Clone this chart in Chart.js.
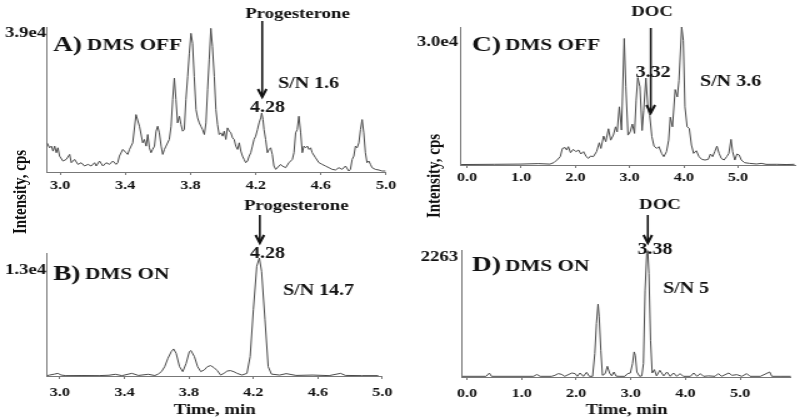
<!DOCTYPE html>
<html>
<head>
<meta charset="utf-8">
<script src="https://cdn.jsdelivr.net/npm/chart.js@4"></script>
<style>
  body { margin: 0; background: #fff; overflow: hidden; }
  /* the original figure is stretched sideways, so the whole panel set is too */
  #wrap { position: absolute; left: 0; top: 0; width: 640px; height: 419px;
          transform: scaleX(1.25); transform-origin: 0 0; }
  #wrap canvas { position: absolute; }
  .ytitle { position: absolute; width: 140px; height: 20px; line-height: 20px;
            text-align: center; font: bold 15px "Liberation Serif", "Times New Roman", serif;
            color: #111; transform: rotate(-90deg); }
</style>
</head>
<body>
<div id="wrap">
  <canvas id="cA" width="320" height="190" style="left:0;top:0"></canvas>
  <canvas id="cB" width="320" height="229" style="left:0;top:190px"></canvas>
  <canvas id="cC" width="320" height="190" style="left:320px;top:0"></canvas>
  <canvas id="cD" width="320" height="229" style="left:320px;top:190px"></canvas>
  <div class="ytitle" style="left:-52px;top:182px">Intensity, cps</div>
  <div class="ytitle" style="left:279px;top:166px">Intensity, cps</div>
</div>
<script>
  // ---- data: [time (min), intensity (cps)] ----

  // A) progesterone, DMS off
  var traceA = [
    [2.920,7850],[2.936,6510],[2.947,6960],[2.957,5620],[2.967,6960],[2.977,5180],[2.987,6510],[2.997,4280],
    [3.018,2950],[3.038,3390],[3.059,4730],[3.069,2500],[3.089,3390],[3.110,2050],[3.130,2500],[3.150,1610],
    [3.171,2050],[3.191,1610],[3.212,2500],[3.222,1610],[3.242,2950],[3.263,1610],[3.283,2500],[3.303,2050],
    [3.324,2950],[3.344,2050],[3.354,2500],[3.364,4280],[3.385,6070],[3.405,5180],[3.415,4730],[3.426,6070],
    [3.446,7850],[3.466,15440],[3.487,12310],[3.507,7850],[3.517,8750],[3.528,6960],[3.538,10080],[3.548,6510],
    [3.558,5180],[3.568,6070],[3.579,6960],[3.589,10980],[3.599,12310],[3.609,10530],[3.620,6960],[3.630,4730],
    [3.640,6070],[3.650,6960],[3.670,8750],[3.681,12310],[3.691,19450],[3.701,25250],[3.711,19450],[3.721,13210],
    [3.732,14990],[3.742,12760],[3.752,10980],[3.762,11420],[3.772,19450],[3.783,25700],[3.793,31950],[3.803,37300],
    [3.813,34620],[3.823,25700],[3.834,16780],[3.844,14550],[3.854,13210],[3.864,12310],[3.874,11420],[3.885,10080],
    [3.895,13210],[3.905,22130],[3.915,30160],[3.925,38640],[3.935,33730],[3.946,25700],[3.956,16780],[3.966,12760],
    [3.976,10080],[3.987,10530],[3.997,9640],[4.007,10980],[4.017,8750],[4.027,11870],[4.038,10980],[4.048,10530],
    [4.058,9190],[4.068,8750],[4.078,6960],[4.089,6070],[4.099,7850],[4.109,5620],[4.119,4280],[4.129,3390],
    [4.139,2500],[4.150,2950],[4.160,4280],[4.170,5180],[4.180,6960],[4.190,8750],[4.200,9640],[4.211,11420],
    [4.221,13210],[4.231,14550],[4.237,15880],[4.245,14100],[4.251,11420],[4.261,8750],[4.272,5180],[4.282,6070],
    [4.292,6510],[4.302,4730],[4.312,1610],[4.323,710],[4.343,1610],[4.353,2050],[4.363,1610],[4.384,1160],
    [4.404,2500],[4.425,3390],[4.435,5180],[4.445,10530],[4.455,11420],[4.465,14990],[4.476,10530],[4.486,5180],
    [4.496,6960],[4.506,6510],[4.517,6960],[4.527,6070],[4.537,6510],[4.547,5180],[4.567,3840],[4.588,2500],
    [4.608,2050],[4.628,1610],[4.649,1160],[4.669,710],[4.690,540],[4.710,1160],[4.730,710],[4.751,1610],
    [4.771,270],[4.781,710],[4.792,3390],[4.802,4280],[4.812,6960],[4.822,6510],[4.833,7850],[4.843,11420],
    [4.853,14100],[4.863,10530],[4.873,5180],[4.883,2500],[4.894,2950],[4.904,2050],[4.914,1160],[4.934,710],
    [4.955,540],[4.975,270],[4.996,270]
  ];

  // B) progesterone, DMS on
  var traceB = [
    [2.920,40],[2.936,100],[2.967,200],[2.987,280],[3.008,100],[3.038,40],[3.140,50],[3.242,40],
    [3.303,80],[3.344,180],[3.385,40],[3.446,280],[3.487,60],[3.548,180],[3.589,50],[3.609,200],
    [3.630,460],[3.650,990],[3.670,1870],[3.691,2580],[3.705,2860],[3.721,2400],[3.742,990],[3.762,460],
    [3.783,1340],[3.803,2580],[3.813,2690],[3.834,2050],[3.854,990],[3.874,460],[3.895,640],[3.915,990],
    [3.935,1100],[3.956,880],[3.976,570],[3.997,100],[4.017,280],[4.038,530],[4.058,570],[4.078,460],
    [4.099,280],[4.129,100],[4.160,280],[4.180,2050],[4.200,7000],[4.221,11600],[4.237,12470],[4.251,11060],
    [4.272,5940],[4.292,990],[4.312,200],[4.363,100],[4.404,250],[4.465,60],[4.567,100],[4.669,40],
    [4.741,280],[4.771,60],[4.873,40],[4.975,40]
  ];

  // C) DOC, DMS off
  var traceC = [
    [-0.104,100],[0.50,150],[0.98,200],[1.32,300],[1.53,200],[1.60,500],[1.66,1080],[1.72,1810],
    [1.76,3600],[1.81,3800],[1.84,3250],[1.87,3980],[1.91,2680],[1.96,3400],[2.01,2900],[2.06,3250],
    [2.10,2390],[2.15,2900],[2.20,1810],[2.24,1450],[2.28,1950],[2.33,1810],[2.39,2900],[2.44,4840],
    [2.47,3600],[2.52,6290],[2.56,5060],[2.61,7880],[2.65,5400],[2.70,6500],[2.74,8300],[2.77,7200],
    [2.81,12650],[2.85,7600],[2.90,27500],[2.93,17000],[2.97,6500],[3.01,7200],[3.05,8900],[3.09,6870],
    [3.12,14100],[3.15,19000],[3.19,17000],[3.23,7500],[3.26,11900],[3.30,18900],[3.34,11900],[3.37,10800],
    [3.41,6150],[3.45,4100],[3.50,3600],[3.54,3980],[3.59,2530],[3.63,1810],[3.68,2900],[3.72,5400],
    [3.75,10400],[3.79,8300],[3.84,16400],[3.88,14800],[3.91,18400],[3.96,30000],[3.99,27100],[4.02,12650],
    [4.06,8300],[4.10,7950],[4.14,4340],[4.18,2530],[4.23,3100],[4.28,1810],[4.33,1230],[4.39,1080],
    [4.45,1230],[4.49,2390],[4.53,1810],[4.57,2900],[4.61,4100],[4.65,2530],[4.69,1450],[4.74,1080],
    [4.79,1810],[4.83,2530],[4.87,5570],[4.90,2900],[4.94,1080],[4.98,2390],[5.02,2170],[5.06,1080],
    [5.12,500],[5.21,360],[5.34,220],[5.43,360],[5.52,140],[5.71,150],[5.89,100],[6.04,150]
  ];

  // D) DOC, DMS on
  var traceD = [
    [-0.09,12],[0.35,12],[0.41,70],[0.45,12],[1.22,12],[1.28,45],[1.34,12],[1.55,12],
    [1.61,30],[1.67,60],[1.73,48],[1.79,12],[1.92,71],[1.98,60],[2.02,12],[2.07,71],
    [2.13,12],[2.19,83],[2.24,12],[2.30,12],[2.34,417],[2.37,953],[2.40,1298],[2.42,1072],
    [2.45,476],[2.48,30],[2.53,60],[2.57,191],[2.61,71],[2.65,20],[2.69,89],[2.73,15],
    [2.80,12],[2.89,12],[2.94,60],[2.99,71],[3.03,238],[3.06,447],[3.08,387],[3.11,89],
    [3.16,12],[3.20,20],[3.23,238],[3.26,1548],[3.29,2203],[3.31,2250],[3.33,1846],[3.36,655],
    [3.39,71],[3.43,131],[3.47,20],[3.53,119],[3.60,20],[3.66,89],[3.72,12],[3.78,71],
    [3.84,12],[3.90,60],[3.96,12],[4.09,12],[4.15,71],[4.21,12],[4.27,60],[4.33,12],
    [4.42,20],[4.54,12],[4.60,60],[4.66,12],[4.79,71],[4.85,30],[4.94,42],[5.03,12],
    [5.12,60],[5.18,12],[5.37,12],[5.54,89],[5.58,12],[5.73,12],[5.93,12]
  ];

  // tick values and full-scale labels
  var ticksProg = [3.0, 3.4, 3.8, 4.2, 4.6, 5.0];
  var ticksDoc = [0, 1, 2, 3, 4, 5];
  var fullScale = { A: 39000, B: 13000, C: 30000, D: 2263 };
  var fullScaleText = { A: '3.9e4', B: '1.3e4', C: '3.0e4', D: '2263' };
  var peakAt = { A: 4.24, B: 4.24, C: 3.39, D: 3.31 };

  var serif = '"Liberation Serif", "Times New Roman", serif';
  Chart.defaults.font.family = serif;

  // draws the panel captions and the arrow pointing at the analyte peak
  const notesPlugin = {
    id: 'notes',
    afterDraw(chart, args, opts) {
      const ctx = chart.ctx;
      ctx.save();
      ctx.fillStyle = '#111';
      ctx.textBaseline = 'middle';
      (opts.texts || []).forEach(t => {
        ctx.font = 'bold ' + t.size + 'px ' + serif;
        ctx.textAlign = t.align || 'left';
        ctx.fillText(t.text, t.x, t.y);
      });
      if (opts.arrow) {
        const ax = chart.scales.x.getPixelForValue(opts.arrow.at);
        ctx.strokeStyle = '#111';
        ctx.lineWidth = 1.6;
        ctx.beginPath();
        ctx.moveTo(ax, opts.arrow.y1);
        ctx.lineTo(ax, opts.arrow.y2);
        ctx.stroke();
        ctx.lineWidth = 2;
        ctx.beginPath();
        ctx.moveTo(ax - 3.4, opts.arrow.y2 - 8);
        ctx.lineTo(ax, opts.arrow.y2);
        ctx.lineTo(ax + 3.4, opts.arrow.y2 - 8);
        ctx.stroke();
      }
      ctx.restore();
    }
  };

  function makePanel(id, trace, xMin, xMax, yMax, tickVals, pad, axisH, withTitle, tickPad, notes) {
    return new Chart(document.getElementById(id), {
      type: 'line',
      data: {
        datasets: [{
          data: trace.map(p => ({ x: p[0], y: p[1] })),
          borderColor: '#4a4a4a',
          borderWidth: 1,
          pointRadius: 0,
          tension: 0,
          fill: false
        }]
      },
      options: {
        responsive: false,
        animation: false,
        layout: { padding: pad },
        plugins: { legend: { display: false }, tooltip: { enabled: false }, notes: notes },
        scales: {
          x: {
            type: 'linear',
            min: xMin,
            max: xMax,
            afterBuildTicks: scale => { scale.ticks = tickVals.map(v => ({ value: v })); },
            afterFit: scale => { scale.height = axisH; },
            ticks: {
              color: '#111',
              padding: tickPad,
              maxRotation: 0,
              font: { size: 13, weight: 'bold' },
              callback: v => Number(v).toFixed(1)
            },
            grid: { drawOnChartArea: false, tickLength: 3, color: '#777' },
            border: { color: '#777', width: 1 },
            title: {
              display: withTitle,
              text: 'Time, min',
              color: '#111',
              padding: { top: 0, bottom: 0 },
              font: { size: 15, weight: 'bold' }
            }
          },
          y: {
            min: 0,
            max: yMax,
            afterFit: scale => { scale.width = 0; },
            ticks: { display: false },
            grid: { display: false },
            border: { color: '#777', width: 1, dash: [1, 1.5] }
          }
        }
      },
      plugins: [notesPlugin]
    });
  }

  makePanel('cA', traceA, 2.92, 5.0, fullScale.A, ticksProg,
    { left: 37.6, right: 10.4, top: 27, bottom: 0 }, 18, false, 3, {
      texts: [
        { text: fullScaleText.A, x: 37, y: 33, size: 15, align: 'right' },
        { text: 'A)', x: 42.4, y: 45, size: 22 },
        { text: 'DMS OFF', x: 69.6, y: 46, size: 17 },
        { text: 'Progesterone', x: 238, y: 14, size: 15, align: 'center' },
        { text: '4.28', x: 214, y: 108, size: 16, align: 'center' },
        { text: 'S/N 1.6', x: 222.4, y: 84, size: 16 }
      ],
      arrow: { at: peakAt.A, y1: 21, y2: 97 }
    });

  makePanel('cB', traceB, 2.92, 5.0, fullScale.B, ticksProg,
    { left: 37.6, right: 10.4, top: 63, bottom: 0 }, 43, true, 6, {
      texts: [
        { text: fullScaleText.B, x: 37, y: 80, size: 15, align: 'right' },
        { text: 'B)', x: 42.4, y: 84.5, size: 22 },
        { text: 'DMS ON', x: 68, y: 85, size: 17 },
        { text: 'Progesterone', x: 237, y: 16, size: 15, align: 'center' },
        { text: '4.28', x: 214, y: 64, size: 16, align: 'center' },
        { text: 'S/N 14.7', x: 226.4, y: 101, size: 16 }
      ],
      arrow: { at: peakAt.B, y1: 25, y2: 53 }
    });

  makePanel('cC', traceC, -0.11, 6.05, fullScale.C, ticksDoc,
    { left: 48.8, right: 4, top: 27, bottom: 7 }, 18, false, 2, {
      texts: [
        { text: fullScaleText.C, x: 46.4, y: 42, size: 15, align: 'right' },
        { text: 'C)', x: 57.6, y: 45, size: 22 },
        { text: 'DMS OFF', x: 84, y: 46, size: 17 },
        { text: 'DOC', x: 201.6, y: 12, size: 15, align: 'center' },
        { text: '3.32', x: 202.4, y: 73, size: 16, align: 'center' },
        { text: 'S/N 3.6', x: 240, y: 82, size: 16 }
      ],
      arrow: { at: peakAt.C, y1: 28, y2: 113 }
    });

  makePanel('cD', traceD, -0.09, 5.93, fullScale.D, ticksDoc,
    { left: 49.6, right: 7.2, top: 60, bottom: 0 }, 42, true, 6, {
      texts: [
        { text: fullScaleText.D, x: 46.4, y: 67.5, size: 15, align: 'right' },
        { text: 'D)', x: 57.6, y: 75, size: 22 },
        { text: 'DMS ON', x: 84, y: 77, size: 17 },
        { text: 'DOC', x: 208, y: 15, size: 15, align: 'center' },
        { text: '3.38', x: 204, y: 60, size: 16, align: 'center' },
        { text: 'S/N 5', x: 210.4, y: 99, size: 16 }
      ],
      arrow: { at: peakAt.D, y1: 25, y2: 53 }
    });
</script>
</body>
</html>
